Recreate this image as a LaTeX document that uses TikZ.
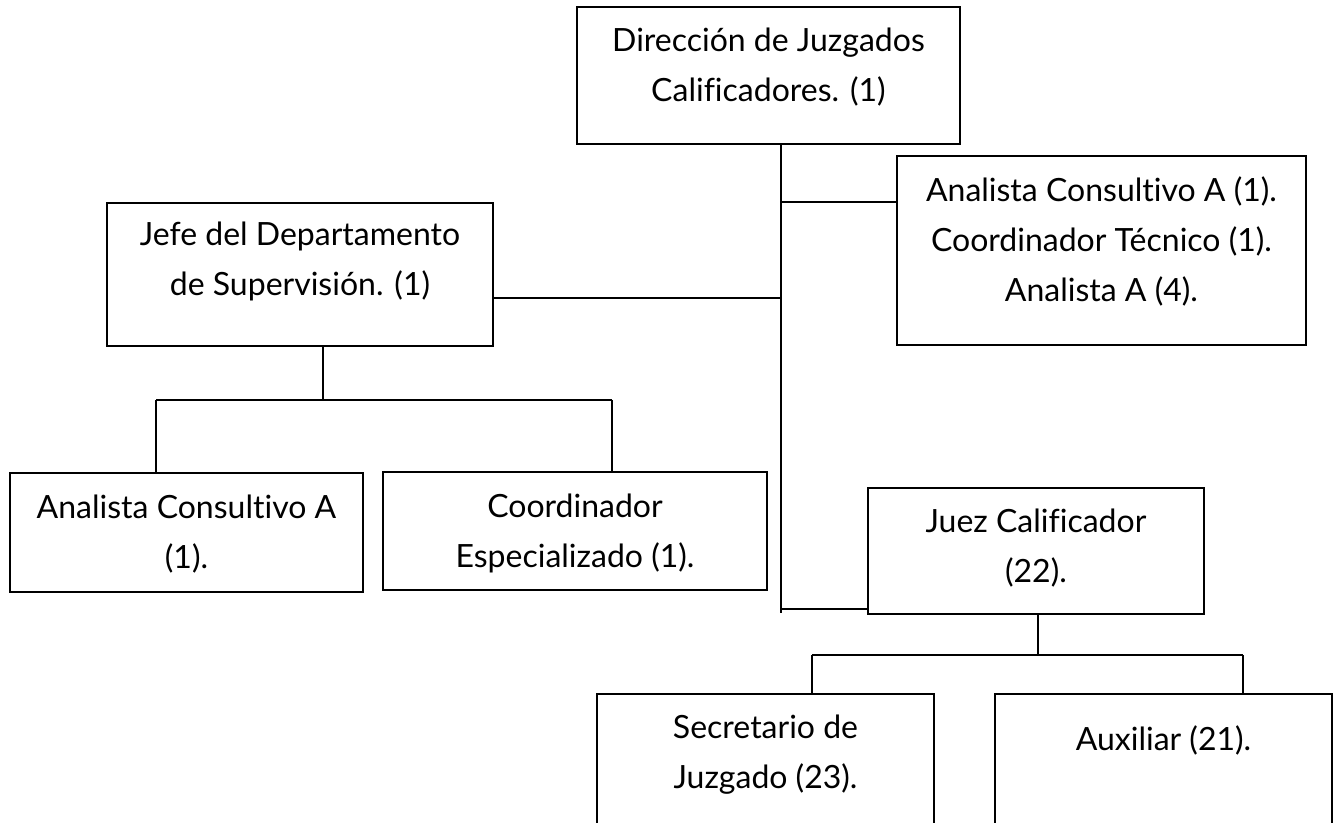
\documentclass[tikz,border=0pt]{standalone}
\usepackage{fontspec}
\setmainfont{Lato}[Ligatures={NoCommon}]
\begin{document}
\begin{tikzpicture}[x=0.75pt,y=-0.75pt,
  line width=1.4pt,
  box/.style 2 args={draw, line width=1.4pt, inner sep=0pt,
    minimum width=#1*0.75pt, minimum height=#2*0.75pt},
  txt/.style={align=center, inner sep=0pt,
    font=\fontsize{24}{37.5}\selectfont}]
\clip (0,0) rectangle (1339,823);
\fill[white] (0,0) rectangle (1339,823);
% boxes
\node[box={383}{137}] (dir)  at (768.5,75.5) {};
\node[box={409}{189}] (ana)  at (1101.5,250.5) {};
\node[box={386}{143}] (jefe) at (300,274.5) {};
\node[box={353}{119}] (anl)  at (186.5,532.5) {};
\node[box={384}{118}] (coo)  at (575,531) {};
\node[box={336}{126}] (juez) at (1036,551) {};
\node[box={337}{141}] (sec)  at (765.5,764.5) {};
\node[box={337}{141}] (aux)  at (1163.5,764.5) {};
% texts
\node[txt] (tdir)  at (768.5,67.5) {Dirección de Juzgados\\Calificadores. (1)};
\node[txt] (tana)  at (1101.5,241) {Analista Consultivo A (1).\\Coordinador Técnico (1).\\Analista A (4).};
\node[txt] (tjefe) at (300,261) {Jefe del Departamento\\de Supervisión. (1)};
\node[txt] (tanl)  at (186.5,534) {Analista Consultivo A\\(1).};
\node[txt] (tcoo)  at (575,533.5) {Coordinador\\Especializado (1).};
\node[txt] (tjuez) at (1036,548.5) {Juez Calificador\\(22).};
\node[txt] (tsec)  at (765.5,755) {Secretario de\\Juzgado (23).};
\node[txt] (taux)  at (1163.5,740) {Auxiliar (21).};
% junction coordinates
\coordinate (m1) at (781,202);
\coordinate (m2) at (781,298);
\coordinate (m3) at (781,609);
\coordinate (mend) at (781,613);
\coordinate (j1) at (323,400);
\coordinate (ja) at (156,400);
\coordinate (jb) at (612,400);
\coordinate (k1) at (1038,655);
\coordinate (ka) at (812,655);
\coordinate (kb) at (1243,655);
% connectors
\draw (dir.south -| m1) -- (mend);
\draw (m1) -- (ana.west |- m1);
\draw (jefe.east |- m2) -- (m2);
\draw (m3) -- (juez.west |- m3);
\draw (jefe.south -| j1) -- (j1);
\draw (ja) -- (jb);
\draw (ja) -- (anl.north -| ja);
\draw (jb) -- (coo.north -| jb);
\draw (juez.south -| k1) -- (k1);
\draw (ka) -- (kb);
\draw (ka) -- (sec.north -| ka);
\draw (kb) -- (aux.north -| kb);
\end{tikzpicture}
\end{document}
